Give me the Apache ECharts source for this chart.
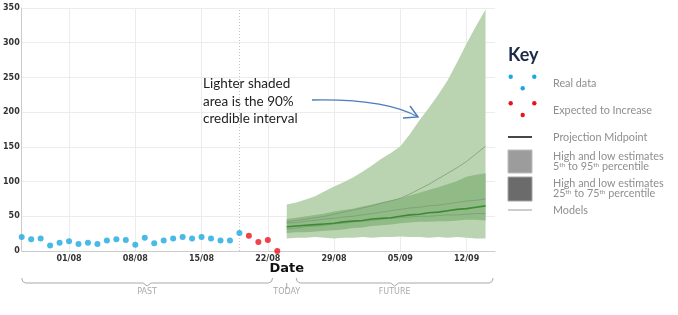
<!DOCTYPE html>
<html>
<head>
<meta charset="utf-8">
<script src="https://cdn.jsdelivr.net/npm/echarts@6/dist/echarts.min.js"></script>
<style>html,body{margin:0;padding:0;background:#fff}#c{width:678px;height:315px}</style>
</head>
<body>
<div id="c"></div>
<script>
// ---- data ----
const dates = ['27/07','28/07','29/07','30/07','31/07',
 '01/08','02/08','03/08','04/08','05/08','06/08','07/08','08/08','09/08','10/08','11/08','12/08','13/08','14/08','15/08','16/08',
 '17/08','18/08','19/08','20/08','21/08','22/08','23/08','24/08','25/08','26/08','27/08','28/08','29/08','30/08','31/08',
 '01/09','02/09','03/09','04/09','05/09','06/09','07/09','08/09','09/09','10/09','11/09','12/09','13/09','14/09','15/09'];
const xTickLabels = ['01/08','08/08','15/08','22/08','29/08','05/09','12/09'];
const yTicks = [0,50,100,150,200,250,300,350];

const realDates = dates.slice(0, 24);
const realValues = [20,17,18,8,12,14,10,12,10,15,17,16,9,19,11,15,18,20,18,20,18,15,15,26];
const expectedDates = ['20/08','21/08','22/08','23/08'];
const expectedValues = [22,13,16,0];

const projDates = dates.slice(28, 50); // 24/08 .. 14/09
const midpoint = [35,36,37,38,39,40,42,43,44,46,47,48,50,52,53,55,56,58,60,61,63,65];
const low5   = [18,19,19,20,19,18,19,19,20,19,20,20,21,20,20,19,20,19,20,19,18,18];
const high95 = [67,70,74,79,86,93,99,106,114,123,133,141,151,168,188,206,225,246,272,299,324,348];
const low25  = [26,27,27,28,29,30,31,33,34,36,37,38,40,41,42,42,43,43,44,45,45,44];
const high75 = [46,48,50,52,54,57,59,61,64,67,70,73,76,80,84,88,92,96,101,107,110,112];
const modelA = [42,44,46,48,50,53,56,59,62,65,69,72,76,82,89,96,104,112,120,129,140,151];
const modelB = [40,41,43,44,46,47,49,50,52,54,56,58,60,62,63,65,66,68,70,72,73,75];
const modelC = [32,33,35,36,37,39,40,42,43,44,46,47,48,49,50,50,51,52,52,53,54,54];
const todayDate = '24/08';
const dividerDate = '19/08';

// ---- build ----
const pair = (ds, vs) => ds.map((d, i) => [d, vs[i]]);
const diff = (hi, lo) => projDates.map((d, i) => [d, hi[i] - lo[i]]);

const chart = echarts.init(document.getElementById('c'));
const bandBase = { type: 'line', symbol: 'none', showSymbol: false, lineStyle: { width: 0, opacity: 0 }, silent: true };
const modelLine = (v) => ({ type: 'line', symbol: 'none', data: pair(projDates, v), lineStyle: { width: 1, color: '#7c9c77', opacity: 0.8 }, z: 4 });

chart.setOption({
  animation: false,
  grid: { left: 20, right: 183, top: 8, bottom: 64 },
  xAxis: {
    type: 'category', data: dates, boundaryGap: false,
    axisLine: { lineStyle: { color: '#cccccc' } },
    axisTick: { show: false },
    axisLabel: { interval: (i, v) => xTickLabels.includes(v), color: '#333', fontFamily: 'DejaVu Sans', fontWeight: 'bold', fontSize: 8, margin: 4 },
    splitLine: { show: true, interval: (i, v) => xTickLabels.includes(v), lineStyle: { color: '#ececec' } }
  },
  yAxis: {
    type: 'value', min: yTicks[0], max: yTicks[yTicks.length - 1], interval: 50,
    axisLine: { show: true, lineStyle: { color: '#cccccc' } },
    axisTick: { show: false },
    axisLabel: { color: '#333', fontFamily: 'DejaVu Sans', fontWeight: 'bold', fontSize: 8, margin: 2 },
    splitLine: { lineStyle: { color: '#ececec' } }
  },
  series: [
    Object.assign({}, bandBase, { stack: 'b90', data: pair(projDates, low5), z: 2 }),
    Object.assign({}, bandBase, { stack: 'b90', data: diff(high95, low5), areaStyle: { color: '#bad4b1', opacity: 1 }, z: 2 }),
    Object.assign({}, bandBase, { stack: 'b50', data: pair(projDates, low25), z: 3 }),
    Object.assign({}, bandBase, { stack: 'b50', data: diff(high75, low25), areaStyle: { color: '#90ba86', opacity: 1 }, z: 3 }),
    modelLine(modelA), modelLine(modelB), modelLine(modelC),
    { type: 'line', symbol: 'none', data: pair(projDates, midpoint), lineStyle: { width: 1.6, color: '#3e8a34' }, z: 5 },
    { type: 'scatter', data: pair(realDates, realValues), symbolSize: 6, itemStyle: { color: '#1ba8e0' }, z: 6,
      markLine: { silent: true, symbol: 'none', label: { show: false }, lineStyle: { color: '#c4c4c4', type: [1, 2], width: 1 }, data: [{ xAxis: dividerDate }] } },
    { type: 'scatter', data: pair(expectedDates, expectedValues), symbolSize: 6, itemStyle: { color: '#e8141c' }, z: 6 }
  ]
});

// ---- decorations ----
const px = (d) => chart.convertToPixel({ xAxisIndex: 0 }, d);
const x0 = px(dates[0]), step = px(dates[1]) - x0;
const xToday = px(todayDate);
const pastEnd = px('22/08') + step * 0.5, futStart = px('25/08'), futEnd = px('14/09') + step * 0.8;
const by = 283, bc = '#a8a8a8';
function bracket(a, b) {
  const m = (a + b) / 2;
  return { type: 'polyline', shape: { points: [[a, by - 5], [a + 1, by - 1.5], [a + 4, by], [m - 4, by], [m, by + 3], [m + 4, by], [b - 4, by], [b - 1, by - 1.5], [b, by - 5]] }, style: { stroke: bc, lineWidth: 1, fill: null } };
}
const greyTxt = (x, t) => ({ type: 'text', x: x, y: 292, style: { text: t, fill: '#a9a9a9', font: '8px "DejaVu Sans"', align: 'center', verticalAlign: 'middle' } });
const keyTxt = (y, t) => ({ type: 'text', x: 553, y: y, style: { text: t, fill: '#8e8e8e', font: '10.8px Lato', verticalAlign: 'middle' } });
const keyRich = (y, base, a, b, tail) => ({ type: 'text', x: 553, y: y, style: {
  rich: { n: { fill: '#8e8e8e', font: '10.8px Lato' }, s: { fill: '#8e8e8e', font: '6.5px Lato', verticalAlign: 'top', padding: [0, 0, 4, 0] } },
  text: `{n|${base}}{s|th}{n| to ${a}}{s|th}{n|${tail}}`, verticalAlign: 'middle' } });
const dot = (x, y, c) => ({ type: 'circle', shape: { cx: x, cy: y, r: 2.2 }, style: { fill: c } });

chart.setOption({
  graphic: [
    bracket(x0, pastEnd), greyTxt((x0 + pastEnd) / 2, 'PAST'),
    { type: 'line', shape: { x1: xToday, y1: by, x2: xToday, y2: by + 6 }, style: { stroke: bc, lineWidth: 1 } },
    greyTxt(xToday, 'TODAY'),
    bracket(futStart, futEnd), greyTxt((futStart + futEnd) / 2, 'FUTURE'),
    { type: 'text', x: xToday, y: 269, style: { text: 'Date', fill: '#111', font: 'bold 13px "DejaVu Sans"', align: 'center', verticalAlign: 'middle' } },
    // annotation
    { type: 'text', x: 203, y: 75, style: { text: 'Lighter shaded\narea is the 90%\ncredible interval', fill: '#222', font: '13.5px Lato', lineHeight: 17.5 } },
    { type: 'bezierCurve', shape: { x1: 312, y1: 100, cpx1: 360, cpy1: 99, cpx2: 395, cpy2: 104, x2: 418, y2: 117 }, style: { stroke: '#4a7dbb', lineWidth: 1.4, fill: null } },
    { type: 'polyline', shape: { points: [[410, 106], [418, 117], [403, 118]] }, style: { stroke: '#4a7dbb', lineWidth: 1.4, fill: null } },
    // key
    { type: 'text', x: 508, y: 55, style: { text: 'Key', fill: '#1b2a47', font: 'bold 18px Lato', verticalAlign: 'middle' } },
    dot(510.7, 76.7, '#1ba8e0'), dot(534.3, 76.7, '#1ba8e0'), dot(522.7, 88.3, '#1ba8e0'),
    keyTxt(84, 'Real data'),
    dot(510.7, 103.3, '#e8141c'), dot(534.3, 103.3, '#e8141c'), dot(522.7, 115, '#e8141c'),
    keyTxt(111, 'Expected to Increase'),
    { type: 'line', shape: { x1: 508, y1: 137, x2: 532, y2: 137 }, style: { stroke: '#474747', lineWidth: 2 } },
    keyTxt(137.5, 'Projection Midpoint'),
    { type: 'rect', shape: { x: 508, y: 150, width: 24, height: 23 }, style: { fill: '#9c9c9c', stroke: '#bdbdbd', lineWidth: 1 } },
    keyTxt(156.5, 'High and low estimates'),
    keyRich(166.5, '5', '95', '', ' percentile'),
    { type: 'rect', shape: { x: 508, y: 177, width: 24, height: 24 }, style: { fill: '#6b6b6b', stroke: '#a5a5a5', lineWidth: 1 } },
    keyTxt(184, 'High and low estimates'),
    keyRich(194, '25', '75', '', ' percentile'),
    { type: 'line', shape: { x1: 508, y1: 210, x2: 532, y2: 210 }, style: { stroke: '#9a9a9a', lineWidth: 1 } },
    keyTxt(211, 'Models')
  ]
});
</script>
</body>
</html>
